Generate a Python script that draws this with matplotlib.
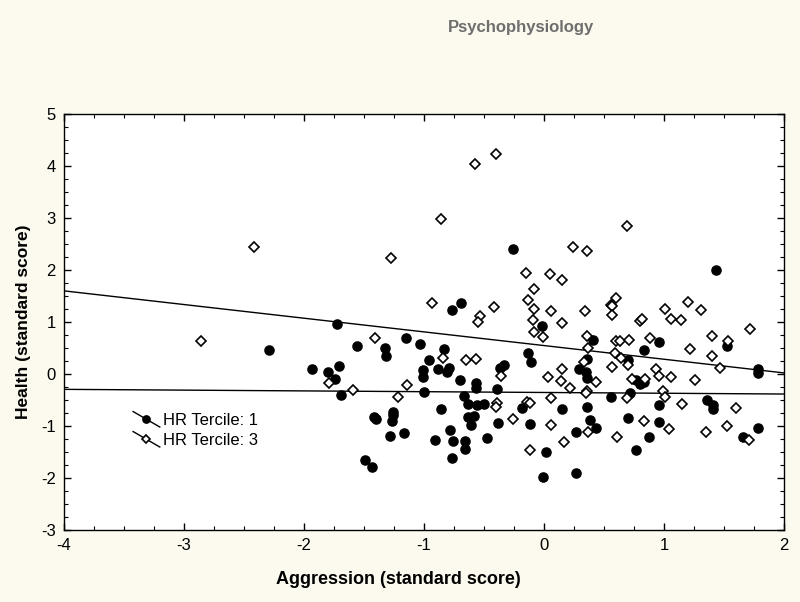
import matplotlib
matplotlib.use("Agg")
import matplotlib.pyplot as plt
from matplotlib.lines import Line2D
from matplotlib.legend_handler import HandlerBase
from matplotlib.ticker import MultipleLocator

plt.rcParams['font.family'] = ['Liberation Sans', 'DejaVu Sans']
plt.rcParams['axes.unicode_minus'] = False

# ---- data ----
t1_x = [-0.256, 1.43, -0.77, -0.69,
        -2.29, -1.93, -1.80, -1.74, -1.71, -1.725, -1.69, -1.56, -1.325, -1.32, -1.15, -1.03,
        -1.42, -1.40, -1.26, -1.26, -1.27, -1.28, -1.17, -1.49, -1.43,
        -0.83, -0.956, -1.01, -1.01, -0.88, -0.81, -0.79, -0.70, -0.57, -0.57, -0.39, -0.37,
        -0.33, -0.13, -0.11, -1.0, -0.67,
        -0.63, -0.56, -0.50, -0.86, -0.63, -0.58, -0.61, -0.78, -0.91, -0.76, -0.66, -0.66,
        -0.77, -0.475, -0.38, -0.18, -0.12, -0.01,
        -0.02, 0.41, 0.36, 0.29, 0.35, 0.36, 0.96, 0.83, 0.70, 0.77, 0.80, 0.83, 0.72, 0.56,
        0.15, 0.36, 0.96, 0.27, 0.38, 0.43, 0.02, 0.27, 0.70, 0.96, 0.875, 0.77,
        1.525, 1.78, 1.78, 1.36, 1.41, 1.41, 1.66, 1.78]
t1_y = [2.40, 2.00, 1.24, 1.36,
        0.47, 0.09, 0.03, -0.10, 0.15, 0.96, -0.40, 0.54, 0.50, 0.35, 0.69, 0.57,
        -0.83, -0.87, -0.74, -0.79, -0.90, -1.19, -1.13, -1.65, -1.78,
        0.49, 0.26, 0.07, -0.06, 0.09, 0.03, 0.12, -0.12, -0.18, -0.26, -0.28, 0.12,
        0.17, 0.41, 0.24, -0.35, -0.42,
        -0.58, -0.60, -0.58, -0.67, -0.83, -0.81, -0.98, -1.08, -1.27, -1.28, -1.28, -1.44,
        -1.62, -1.24, -0.94, -0.65, -0.96, -1.99,
        0.93, 0.65, 0.29, 0.10, 0.04, -0.07, 0.62, 0.47, 0.27, -0.12, -0.19, -0.15, -0.37, -0.45,
        -0.67, -0.63, -0.60, -1.11, -0.88, -1.03, -1.50, -1.90, -0.85, -0.92, -1.21, -1.47,
        0.53, 0.09, 0.01, -0.50, -0.60, -0.67, -1.22, -1.03]

t3_x = [-2.42, -1.275, -0.575, -0.40, -0.86, 0.24, 0.36, 0.69, -0.15, 0.05, 0.15, -0.08,
        -0.13, -0.08, 0.06, 0.34, -0.93, -0.53, -0.42, 0.56, 0.57, 0.60, 0.57, 1.01, 1.20, 1.31,
        -2.86, -1.79, -1.59, -1.41, -1.14, -1.22, -0.553, -0.094, -0.08, -0.84, -0.65, -0.57,
        -0.36, -0.39, -0.40, -0.26, -0.14, -0.12, -0.12, 0.15, -0.01, 0.80, 0.82, 0.36, 0.37,
        0.33, 0.43, 0.15, 0.03, 0.14, 0.22, 0.36, 0.35, 0.06, 0.60, 0.63, 0.71, 0.88, 0.59,
        0.64, 0.70, 0.57, 0.93, 0.96, 0.73, 0.84, 0.69, 0.99, 1.01, 0.06, 0.37, 0.17, 0.83,
        0.61, 1.04, 1.06, 1.14, 1.72, 1.40, 1.53, 1.22, 1.40, 1.47, 1.06, 1.26, 1.15, 1.60,
        1.35, 1.525, 1.71]
t3_y = [2.45, 2.24, 4.03, 4.23, 2.98, 2.44, 2.37, 2.85, 1.94, 1.92, 1.81, 1.63,
        1.42, 1.25, 1.22, 1.21, 1.36, 1.12, 1.28, 1.33, 1.30, 1.46, 1.13, 1.25, 1.38, 1.24,
        0.64, -0.18, -0.31, 0.70, -0.22, -0.45, 1.00, 1.03, 0.81, 0.30, 0.26, 0.29,
        -0.03, -0.56, -0.64, -0.87, -0.54, -0.56, -1.47, 0.98, 0.72, 1.02, 1.05, 0.74, 0.50,
        0.24, -0.15, 0.09, -0.05, -0.14, -0.26, -0.32, -0.36, -0.47, 0.63, 0.64, 0.65, 0.70, 0.41,
        0.31, 0.17, 0.13, 0.10, -0.04, -0.10, -0.09, -0.47, -0.33, -0.45, -0.99, -1.12, -1.30, -0.90,
        -1.22, -1.06, 1.05, 1.03, 0.87, 0.74, 0.63, 0.48, 0.34, 0.11, -0.06, -0.12, -0.57, -0.66,
        -1.12, -1.00, -1.27]

# fitted regression lines (intercept, slope)
fit_t1 = (-0.355, -0.015)
fit_t3 = (0.547, -0.263)

x_range = [-4, 2]
y_range = [-3, 5]
labels = ['HR Tercile: 1', 'HR Tercile: 3']

BG = '#FCFAEE'

fig = plt.figure(figsize=(8.0, 6.02), dpi=100, facecolor=BG)
ax = fig.add_axes([0.08, 0.1196, 0.90, 0.691])
ax.set_facecolor('white')

for b, m in (fit_t1, fit_t3):
    ax.plot(x_range, [b + m * x_range[0], b + m * x_range[1]], color='black', lw=1.0, zorder=2)

h1, = ax.plot(t1_x, t1_y, linestyle='none', marker='o', markersize=6.6,
              mfc='black', mec='black', zorder=3)
h3, = ax.plot(t3_x, t3_y, linestyle='none', marker='D', markersize=4.8,
              mfc='white', mec='black', mew=1.2, zorder=3)

ax.set_xlim(*x_range)
ax.set_ylim(*y_range)
ax.xaxis.set_major_locator(MultipleLocator(1))
ax.yaxis.set_major_locator(MultipleLocator(1))
ax.xaxis.set_minor_locator(MultipleLocator(0.25))
ax.yaxis.set_minor_locator(MultipleLocator(0.25))
ax.tick_params(which='both', direction='in', top=True, right=True, color='black')
ax.tick_params(which='major', length=5, width=1, labelsize=12, pad=6)
ax.tick_params(which='minor', length=3, width=0.8)
for s in ax.spines.values():
    s.set_linewidth(1.0)

ax.set_xlabel('Aggression (standard score)', fontsize=13, fontweight='bold')
ax.xaxis.set_label_coords(0.465, -0.098)
ax.set_ylabel('Health (standard score)', fontsize=12.5, fontweight='bold')
ax.yaxis.set_label_coords(-0.046, 0.5)


class DiagHandler(HandlerBase):
    def create_artists(self, legend, orig_handle, xdescent, ydescent, width, height,
                       fontsize, trans):
        x0 = -xdescent
        x1 = -xdescent + width
        yc = -ydescent + height / 2.0
        dy = width * 0.29
        ln = Line2D([x0, x1], [yc + dy, yc - dy], color='black', lw=1.0, transform=trans)
        mk = Line2D([(x0 + x1) / 2.0], [yc], linestyle='none',
                    marker=orig_handle.get_marker(),
                    markersize=orig_handle.get_markersize() * 0.8,
                    mfc=orig_handle.get_markerfacecolor(),
                    mec=orig_handle.get_markeredgecolor(),
                    mew=orig_handle.get_markeredgewidth(), transform=trans)
        return [ln, mk]


leg = ax.legend([h1, h3], labels, loc='upper left', bbox_to_anchor=(0.096, 0.281),
                frameon=False, fontsize=12, handlelength=1.6, handletextpad=0.2,
                labelspacing=0.3, borderpad=0, borderaxespad=0,
                handler_map={Line2D: DiagHandler()})

fig.text(0.651, 0.955, 'Psychophysiology', ha='center', va='center',
         fontsize=12, fontweight='bold', color='#6E6E6E')

fig.savefig('out.png', dpi=100, facecolor=BG)
